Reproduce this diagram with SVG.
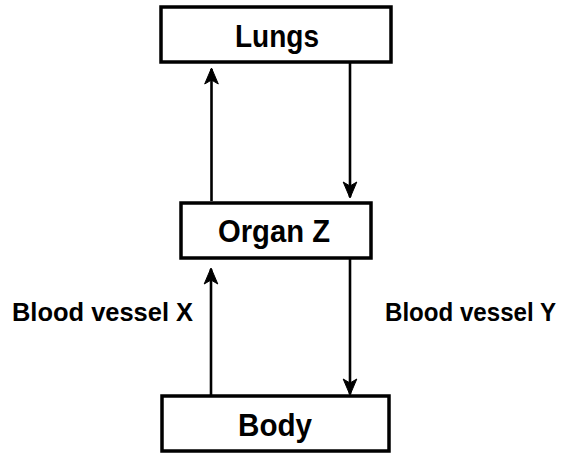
<svg xmlns="http://www.w3.org/2000/svg" width="568" height="454" viewBox="0 0 568 454">
<style>
.box{fill:#fff;stroke:#000;stroke-width:3.5}
.t{font-family:"Liberation Sans",Arial,sans-serif;font-weight:bold;fill:#000;font-size:31px}
.lbl{font-size:25.5px}
.c{stroke:#000;stroke-width:2.6;fill:none;marker-end:url(#ah)}
</style>
<defs>
<marker id="ah" markerUnits="userSpaceOnUse" markerWidth="20" markerHeight="20" refX="16" refY="10" orient="auto" viewBox="0 0 20 20">
<path d="M17,10 L1,3.2 L5,10 L1,16.8 Z" fill="#000" stroke="#000" stroke-width="1" stroke-linejoin="miter"/>
</marker>
</defs>
<rect width="568" height="454" fill="#fff"/>
<g id="connectors">
<path class="c" d="M211.5,201 L211.5,69"/>
<path class="c" d="M350,63 L350,197"/>
<path class="c" d="M211,395 L211,269"/>
<path class="c" d="M350,259 L350,394"/>
</g>
<g id="lungs">
<rect class="box" x="161" y="7" width="230" height="55"/>
<text class="t" x="277" y="47" text-anchor="middle" textLength="84" lengthAdjust="spacingAndGlyphs">Lungs</text>
</g>
<g id="organz">
<rect class="box" x="181" y="203" width="190" height="55"/>
<text class="t" x="274" y="242" text-anchor="middle" textLength="112" lengthAdjust="spacingAndGlyphs">Organ Z</text>
</g>
<g id="body">
<rect class="box" x="162" y="396" width="227" height="55"/>
<text class="t" x="275" y="436" text-anchor="middle" textLength="74" lengthAdjust="spacingAndGlyphs">Body</text>
</g>
<g id="labels">
<text class="t lbl" x="12" y="321" textLength="181" lengthAdjust="spacingAndGlyphs">Blood vessel X</text>
<text class="t lbl" x="385" y="321" textLength="171" lengthAdjust="spacingAndGlyphs">Blood vessel Y</text>
</g>
</svg>
